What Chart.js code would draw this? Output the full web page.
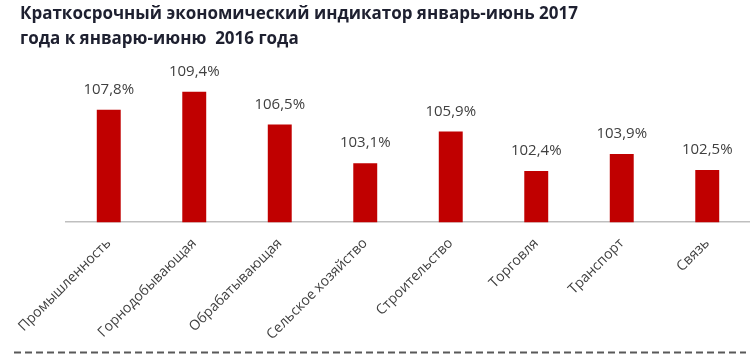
<!DOCTYPE html>
<html><head><meta charset="utf-8">
<script src="https://cdn.jsdelivr.net/npm/chart.js@4"></script>
<style>html,body{margin:0;padding:0;background:#fff;overflow:hidden}#wrap{width:750px;height:357px;position:relative}</style>
</head><body><div id="wrap"><canvas id="c"></canvas></div>
<script>
const titleLines = ['Краткосрочный экономический индикатор январь-июнь 2017', 'года к январю-июню  2016 года'];
const categories = ['Промышленность','Горнодобывающая','Обрабатывающая','Сельское хозяйство','Строительство','Торговля','Транспорт','Связь'];
const values = [107.8,109.4,106.5,103.1,105.9,102.4,103.9,102.5];
const yMin = 97.9, yMax = 111.2;

const valueLabels = {
  id: 'valueLabels',
  afterDatasetsDraw(chart) {
    const ctx = chart.ctx;
    const meta = chart.getDatasetMeta(0);
    ctx.save();
    ctx.font = '15px "Open Sans"';
    ctx.fillStyle = '#404040';
    ctx.textAlign = 'center';
    ctx.textBaseline = 'middle';
    meta.data.forEach((bar, i) => {
      ctx.fillText(values[i].toFixed(1).replace('.', ',') + '%', bar.x, bar.y - 20);
    });
    ctx.restore();
  }
};
const dashedRule = {
  id: 'dashedRule',
  afterDraw(chart) {
    const ctx = chart.ctx;
    ctx.save();
    ctx.strokeStyle = '#595959';
    ctx.lineWidth = 2;
    ctx.setLineDash([7, 4]);
    ctx.beginPath();
    ctx.moveTo(14, chart.height - 4.5);
    ctx.lineTo(746, chart.height - 4.5);
    ctx.stroke();
    ctx.restore();
  }
};

new Chart(document.getElementById('c'), {
  type: 'bar',
  data: {
    labels: categories,
    datasets: [{ data: values, backgroundColor: '#C00000', barPercentage: 0.28, categoryPercentage: 1 }]
  },
  options: {
    responsive: true,
    maintainAspectRatio: false,
    animation: false,
    layout: { padding: { left: 20, right: 0, top: 2, bottom: 9 } },
    plugins: {
      legend: { display: false },
      tooltip: { enabled: false },
      title: {
        display: true, text: titleLines, align: 'start', color: '#1e2030',
        font: { family: '"Open Sans"', size: 17, weight: 'bold', lineHeight: 1.45 },
        padding: { top: 0, bottom: 20 }
      }
    },
    scales: {
      x: {
        grid: { display: false },
        border: { display: true, color: '#bfbfbf', width: 1.5 },
        ticks: { color: '#404040', font: { family: '"Open Sans"', size: 14 }, maxRotation: 45, minRotation: 45, padding: 5 }
      },
      y: {
        min: yMin, max: yMax,
        grid: { display: false },
        border: { display: false },
        ticks: { display: false },
        afterFit(s) { s.width = 46; }
      }
    }
  },
  plugins: [valueLabels, dashedRule]
});
</script></body></html>
